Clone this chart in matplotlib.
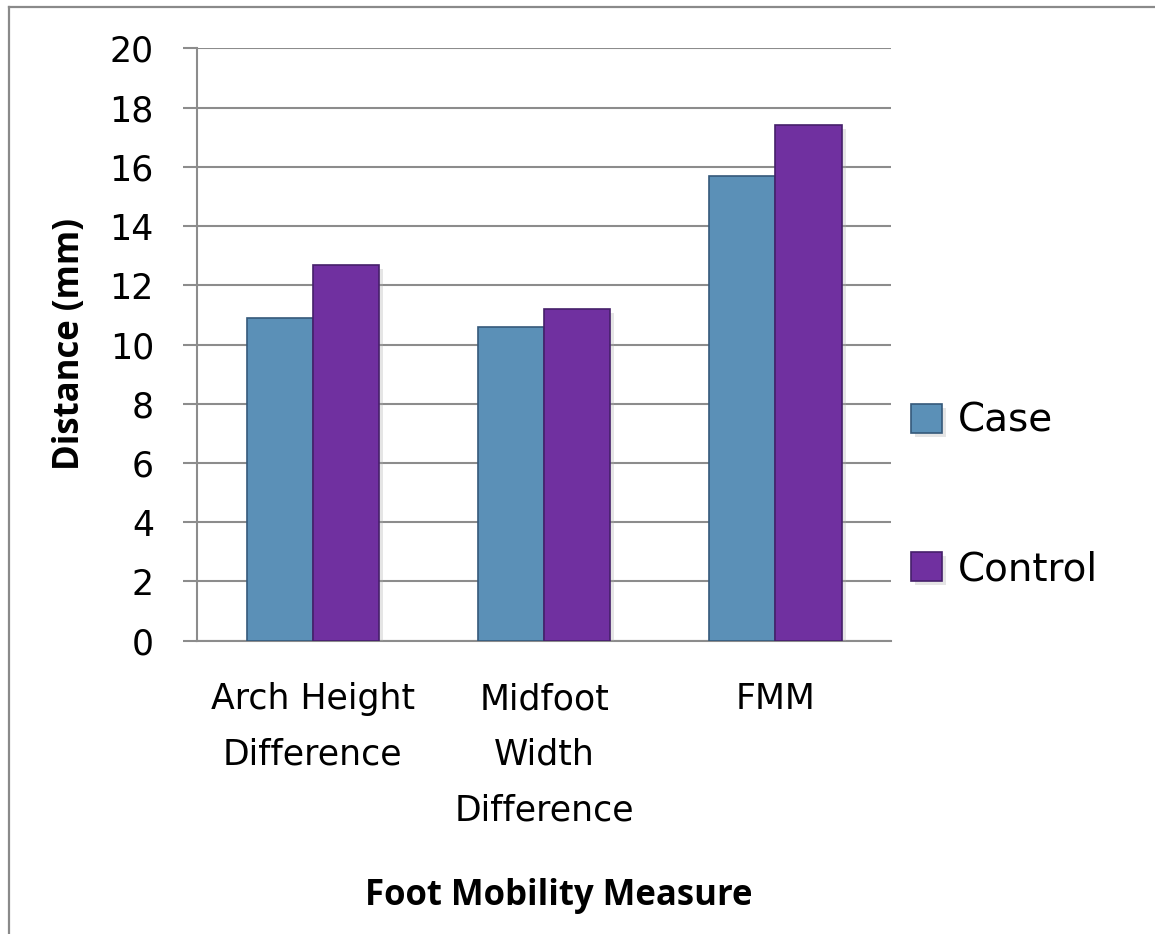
import matplotlib.pyplot as plt
import matplotlib.patheffects as pe
from matplotlib.lines import Line2D
import numpy as np

# mean distances (mm) per foot mobility measure
measures = ["Arch Height\nDifference", "Midfoot\nWidth\nDifference", "FMM"]
case_vals = [10.9, 10.6, 15.7]
control_vals = [12.7, 11.2, 17.4]
yticks = [0, 2, 4, 6, 8, 10, 12, 14, 16, 18, 20]

case_color = "#5b90b7"
case_edge = "#35597a"
control_color = "#7030a0"
control_edge = "#45206a"
grid_color = "#8c8c8c"

plt.rcParams['font.family'] = ['DejaVu Sans']

fig = plt.figure(figsize=(11.55, 9.34), dpi=100)
ax = fig.add_axes([0.1706, 0.3140, 0.6009, 0.6343])

x = np.arange(len(measures))
w = 0.286
shadow = [pe.SimplePatchShadow(offset=(3, -3), shadow_rgbFace="#aaaaaa", alpha=0.3), pe.Normal()]
case_bars = ax.bar(x - w / 2, case_vals, w, color=case_color, edgecolor=case_edge,
                   linewidth=1.2, label="Case", zorder=3)
control_bars = ax.bar(x + w / 2, control_vals, w, color=control_color, edgecolor=control_edge,
                      linewidth=1.2, label="Control", zorder=3)
for b in list(case_bars) + list(control_bars):
    b.set_path_effects(shadow)

ax.set_xlim(-0.5, 2.5)
ax.set_ylim(0, 20)
ax.set_yticks(yticks)
ax.set_xticks(x)
ax.set_xticklabels(measures, fontsize=25, linespacing=1.8)
ax.tick_params(axis='y', labelsize=25, length=10, width=1.5, color=grid_color, pad=21)
ax.tick_params(axis='x', length=0, pad=30)
ax.yaxis.grid(True, color=grid_color, linewidth=1.5, zorder=0)
ax.set_axisbelow(True)
for side in ["top", "right"]:
    ax.spines[side].set_visible(False)
for side in ["left", "bottom"]:
    ax.spines[side].set_color(grid_color)
    ax.spines[side].set_linewidth(1.5)

fig.text(559 / 1155, (934 - 905) / 934, "Foot Mobility Measure", fontsize=25,
         family='Open Sans', fontweight='bold', ha='center', va='baseline')
fig.text(70 / 1155, (934 - 344) / 934, "Distance (mm)", fontsize=25,
         family='Open Sans', fontweight='bold', rotation=90, ha='center', va='center')

leg = fig.legend(handles=[case_bars, control_bars], loc='center left',
                 bbox_to_anchor=(911 / 1155, (934 - 495) / 934), frameon=False,
                 fontsize=28, handlelength=0.8, handleheight=0.78, handletextpad=0.4,
                 labelspacing=2.83, borderpad=0, borderaxespad=0)

# outer frame, open on the right and bottom
fig.add_artist(Line2D([8.5 / 1155, 8.5 / 1155], [0, (934 - 6.5) / 934],
                      transform=fig.transFigure, color="#8a8a8a", linewidth=1.6))
fig.add_artist(Line2D([8.5 / 1155, 1], [(934 - 6.5) / 934, (934 - 6.5) / 934],
                      transform=fig.transFigure, color="#8a8a8a", linewidth=1.6))

fig.savefig("out.png", dpi=100)
